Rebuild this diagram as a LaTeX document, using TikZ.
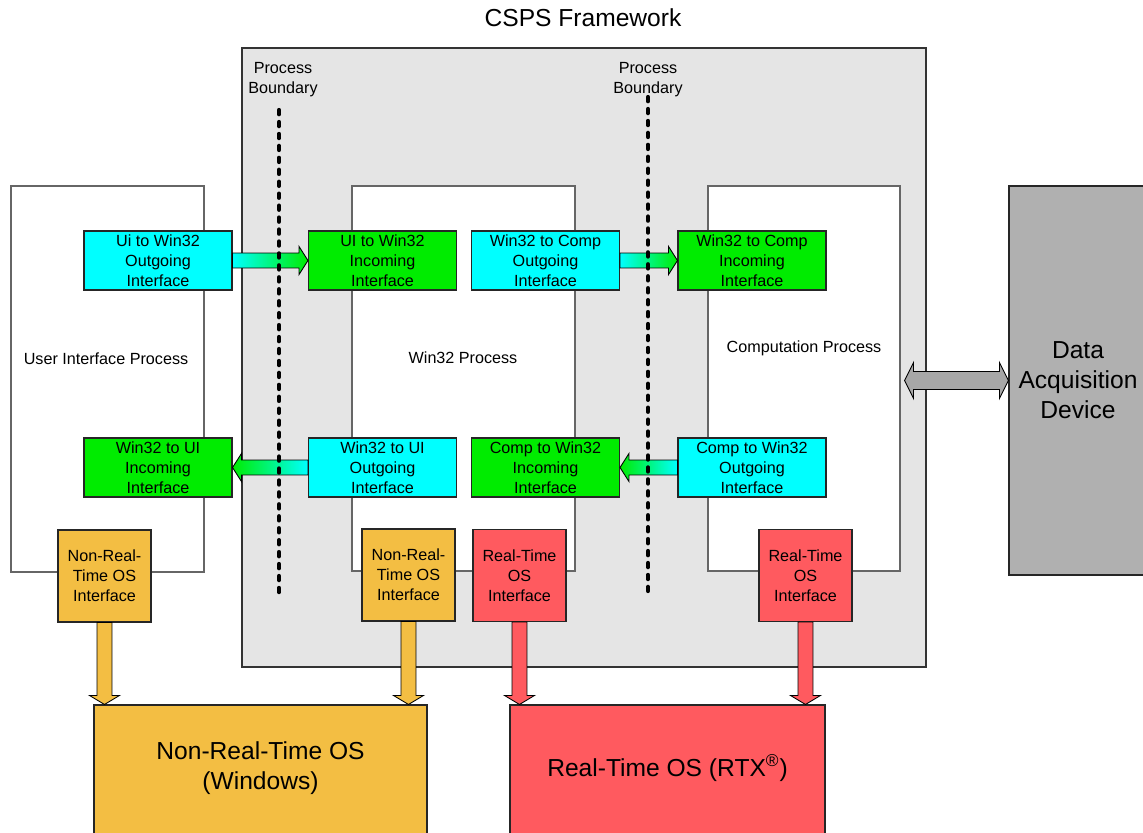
\documentclass[tikz,border=0pt]{standalone}
\usepackage{fontspec}
\setmainfont{Liberation Sans}
\usetikzlibrary{calc}

\definecolor{ifcyan}{RGB}{0,255,255}
\definecolor{ifgreen}{RGB}{0,236,0}
\definecolor{osorange}{RGB}{243,190,67}
\definecolor{osred}{RGB}{255,90,95}
\definecolor{framegray}{RGB}{229,229,229}
\definecolor{devgray}{RGB}{176,176,176}

\tikzset{
  every node/.style={font=\fontsize{9.2}{11.3}\selectfont, align=center, inner sep=0pt},
  pxsize/.style 2 args={minimum width=#1*0.02cm, minimum height=#2*0.02cm},
  framebox/.style={draw=black!80, fill=framegray, line width=0.6pt},
  procbox/.style={draw=black!60, fill=white, line width=0.6pt},
  outbox/.style={draw=black!85, fill=ifcyan, line width=0.6pt, pxsize={148}{59}},
  inbox/.style={draw=black!85, fill=ifgreen, line width=0.6pt, pxsize={148}{59}},
  osbox/.style={draw=black!85, line width=0.6pt, pxsize={93}{92}},
  bigbox/.style={draw=black!85, line width=0.6pt, font=\fontsize{14}{17}\selectfont},
  bigtext/.style={font=\fontsize{14}{17}\selectfont},
  boundary/.style={line width=2.4pt, line cap=round, dash pattern=on 2.4pt off 4.4pt},
  gradright/.style={draw=black, line width=0.5pt, left color=ifcyan, right color=ifgreen},
  gradleft/.style={draw=black, line width=0.5pt, left color=ifgreen, right color=ifcyan},
  osarrow/.style={draw=black, line width=0.5pt, fill=#1}
}

% #2 from, #3 to, #4 = 1 for right, -1 for left
\newcommand{\hblockarrow}[4][]{%
  \draw[#1] let \p1=#2, \p2=#3 in
    ({\x1},{\y1+4.25pt}) -- ({\x2-(#4)*5.1pt},{\y1+4.25pt}) -- ({\x2-(#4)*5.1pt},{\y1+8pt})
    -- ({\x2},{\y1}) -- ({\x2-(#4)*5.1pt},{\y1-8pt}) -- ({\x2-(#4)*5.1pt},{\y1-4.25pt})
    -- ({\x1},{\y1-4.25pt}) -- cycle;}
% downward block arrow
\newcommand{\vblockarrow}[3][]{%
  \draw[#1] let \p1=#2, \p2=#3 in
    ({\x1-4.25pt},{\y1}) -- ({\x1-4.25pt},{\y2+5.1pt}) -- ({\x1-8.5pt},{\y2+5.1pt})
    -- ({\x1},{\y2}) -- ({\x1+8.5pt},{\y2+5.1pt}) -- ({\x1+4.25pt},{\y2+5.1pt})
    -- ({\x1+4.25pt},{\y1}) -- cycle;}

\begin{document}
\begin{tikzpicture}[x=0.02cm,y=-0.02cm]
  \useasboundingbox (0,0) rectangle (1143,832);
  \clip (0,0) rectangle (1143,832);

  \node[bigtext] (title) at (583,18) {CSPS Framework};
  \node[framebox, pxsize={684}{619}] (fw) at (584,357.5) {};

  % processes
  \node[procbox, pxsize={193}{386}] (ui) at (107.5,379) {};
  \node[procbox, pxsize={223}{385}] (win) at (463.5,378.5) {};
  \node[procbox, pxsize={192}{385}] (comp) at (804,378.5) {};
  \node (uilabel) at (106,359) {User Interface Process};
  \node (winlabel) at (463,358) {Win32 Process};
  \node (complabel) at (804,348) {Computation Process};

  \node[bigbox, fill=devgray, pxsize={138}{389}] (data) at (1078,380.5) {Data\\Acquisition\\Device};

  % interfaces
  \node[outbox] (uiout) at (158,260.5) {Ui to Win32\\Outgoing\\Interface};
  \node[inbox] (winin) at (382.5,260.5) {UI to Win32\\Incoming\\Interface};
  \node[outbox] (wincout) at (545.5,260.5) {Win32 to Comp\\Outgoing\\Interface};
  \node[inbox] (compin) at (752,260.5) {Win32 to Comp\\Incoming\\Interface};
  \node[inbox] (uiin) at (158,467.5) {Win32 to UI\\Incoming\\Interface};
  \node[outbox] (winout) at (382.5,467.5) {Win32 to UI\\Outgoing\\Interface};
  \node[inbox] (wincin) at (545.5,467.5) {Comp to Win32\\Incoming\\Interface};
  \node[outbox] (compout) at (752,467.5) {Comp to Win32\\Outgoing\\Interface};

  \hblockarrow[gradright]{(uiout.east)}{(winin.west)}{1}
  \hblockarrow[gradright]{(wincout.east)}{(compin.west)}{1}
  \hblockarrow[gradleft]{(winout.west)}{(uiin.east)}{-1}
  \hblockarrow[gradleft]{(compout.west)}{(wincin.east)}{-1}

  % os interfaces
  \node[osbox, fill=osorange] (nrt1) at (104.5,576) {Non-Real-\\Time OS\\Interface};
  \node[osbox, fill=osorange] (nrt2) at (408.5,575) {Non-Real-\\Time OS\\Interface};
  \node[osbox, fill=osred] (rt1) at (519.5,575.5) {Real-Time\\OS\\Interface};
  \node[osbox, fill=osred] (rt2) at (805.5,575.5) {Real-Time\\OS\\Interface};

  \node[bigbox, fill=osorange, pxsize={333}{150}] (ntos) at (260.5,780) {};
  \node[bigbox, fill=osred, pxsize={315}{150}] (rtos) at (667.5,780) {};
  \node[bigtext] (ntostext) at (260.5,768) {Non-Real-Time OS\\(Windows)};
  \node[bigtext] (rtostext) at (667.5,768) {Real-Time OS (RTX\textsuperscript{®})};

  \vblockarrow[osarrow=osorange]{(nrt1.south)}{(nrt1.south |- ntos.north)}
  \vblockarrow[osarrow=osorange]{(nrt2.south)}{(nrt2.south |- ntos.north)}
  \vblockarrow[osarrow=osred]{(rt1.south)}{(rt1.south |- rtos.north)}
  \vblockarrow[osarrow=osred]{(rt2.south)}{(rt2.south |- rtos.north)}

  \draw[draw=black, line width=0.5pt, fill=devgray!95!black]
    let \p1=($(comp.east |- data.west)+(4,0)$), \p2=(data.west) in
    ({\x1},{\y1}) -- ({\x1+5.1pt},{\y1+10.2pt}) -- ({\x1+5.1pt},{\y1+5.1pt})
    -- ({\x2-5.1pt},{\y1+5.1pt}) -- ({\x2-5.1pt},{\y1+10.2pt}) -- ({\x2},{\y1})
    -- ({\x2-5.1pt},{\y1-10.2pt}) -- ({\x2-5.1pt},{\y1-5.1pt}) -- ({\x1+5.1pt},{\y1-5.1pt})
    -- ({\x1+5.1pt},{\y1-10.2pt}) -- cycle;

  % process boundaries
  \node (pb1) at (283,80) {Process\\Boundary};
  \node (pb2) at (648,80) {Process\\Boundary};
  \draw[boundary] (279,110) -- (279,598);
  \draw[boundary] (648,97) -- (648,596);
\end{tikzpicture}
\end{document}
